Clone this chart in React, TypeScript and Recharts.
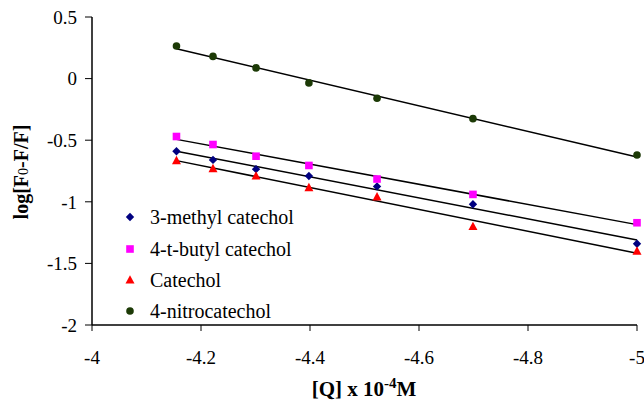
import React from 'react'
import { ScatterChart, Scatter, XAxis, YAxis, Label } from 'recharts'

// log of quencher concentration
const logQ = [-4.155, -4.222, -4.301, -4.398, -4.523, -4.699, -5.0]
const methylCatechol = [-0.59, -0.66, -0.735, -0.79, -0.875, -1.02, -1.34]
const butylCatechol = [-0.47, -0.535, -0.63, -0.705, -0.815, -0.94, -1.17]
const catechol = [-0.665, -0.73, -0.79, -0.885, -0.96, -1.2, -1.4]
const nitroCatechol = [0.265, 0.18, 0.087, -0.035, -0.16, -0.325, -0.62]

const xTicks = [-4, -4.2, -4.4, -4.6, -4.8, -5]
const yTicks = [-2, -1.5, -1, -0.5, 0, 0.5]

const FONT = 'Liberation Serif'

type Pt = { x: number; y: number }

const toPoints = (ys: number[]): Pt[] => logQ.map((x, i) => ({ x, y: ys[i] }))

// least squares trendline, like the excel "linear" trendline
const trend = (ys: number[]): Pt[] => {
  const n = logQ.length
  const mx = logQ.reduce((a, b) => a + b, 0) / n
  const my = ys.reduce((a, b) => a + b, 0) / n
  let sxy = 0
  let sxx = 0
  logQ.forEach((x, i) => {
    sxy += (x - mx) * (ys[i] - my)
    sxx += (x - mx) * (x - mx)
  })
  const b = sxy / sxx
  const a = my - b * mx
  const ends = [logQ[0], logQ[n - 1]]
  return ends.map((x) => ({ x, y: a + b * x }))
}

const Marker = ({ kind, cx, cy, color }: { kind: string; cx: number; cy: number; color: string }) => {
  if (kind === 'diamond') {
    const s = 4.2
    return <polygon points={`${cx},${cy - s} ${cx + s},${cy} ${cx},${cy + s} ${cx - s},${cy}`} fill={color} />
  }
  if (kind === 'square') {
    return <rect x={cx - 3.8} y={cy - 3.8} width={7.6} height={7.6} fill={color} />
  }
  if (kind === 'triangle') {
    return <polygon points={`${cx},${cy - 4.8} ${cx + 4.5},${cy + 3.6} ${cx - 4.5},${cy + 3.6}`} fill={color} />
  }
  return <circle cx={cx} cy={cy} r={3.8} fill={color} />
}

const series = [
  { name: '3-methyl catechol', values: methylCatechol, color: '#000080', kind: 'diamond' },
  { name: '4-t-butyl catechol', values: butylCatechol, color: '#ff00ff', kind: 'square' },
  { name: 'Catechol', values: catechol, color: '#ff0000', kind: 'triangle' },
  { name: '4-nitrocatechol', values: nitroCatechol, color: '#1c3a06', kind: 'circle' },
]

const legendRows = [19, 51, 82, 113]

const LegendBox = () => (
  <svg width={230} height={130} style={{ position: 'absolute', left: 120, top: 198 }}>
    {series.map((s, i) => (
      <g key={s.name}>
        <Marker kind={s.kind} cx={10} cy={legendRows[i]} color={s.color} />
        <text x={30} y={legendRows[i]} dy="0.35em" style={{ fontFamily: FONT, fontSize: 20 }} fill="#000">
          {s.name}
        </text>
      </g>
    ))}
  </svg>
)

const YTitle = () => (
  <text
    transform="translate(28,172) rotate(-90)"
    textAnchor="middle"
    style={{ fontFamily: FONT, fontSize: 20, fontWeight: 'bold' }}
    fill="#000"
  >
    log[F<tspan style={{ fontSize: 14, fontWeight: 'normal' }}>0</tspan>-F/F]
  </text>
)

const XTitle = () => (
  <text x={364} y={396} textAnchor="middle" style={{ fontFamily: FONT, fontSize: 21, fontWeight: 'bold' }} fill="#000">
    [Q] x 10<tspan style={{ fontSize: 15 }} dy={-8}>-4</tspan>
    <tspan dy={8}>M</tspan>
  </text>
)

const tickStyle = { fontFamily: FONT, fontSize: 19, fill: '#000' }

export default function App() {
  return (
    <div style={{ position: 'absolute', left: 0, top: 0, width: 644, height: 401, background: '#fff', fontFamily: FONT }}>
      <ScatterChart width={644} height={401} margin={{ top: 17, right: 7, bottom: 0, left: 0 }} style={{ fontFamily: FONT }}>
        <XAxis
          type="number"
          dataKey="x"
          domain={[-5, -4]}
          reversed
          ticks={xTicks}
          interval={0}
          height={76}
          tickSize={6}
          tickMargin={20}
          axisLine={{ stroke: '#404040', strokeWidth: 2 }}
          tickLine={{ stroke: '#000' }}
          tick={tickStyle}
          tickFormatter={(v: number) => String(v)}
        >
          <Label content={() => <XTitle />} />
        </XAxis>
        <YAxis
          type="number"
          dataKey="y"
          domain={[-2, 0.5]}
          ticks={yTicks}
          interval={0}
          width={92}
          tickSize={7}
          tickMargin={8}
          axisLine={{ stroke: '#000', strokeWidth: 1.5 }}
          tickLine={{ stroke: '#000' }}
          tick={tickStyle}
          tickFormatter={(v: number) => String(v)}
        >
          <Label content={() => <YTitle />} />
        </YAxis>
        {series.map((s) => (
          <Scatter
            key={`trend-${s.name}`}
            data={trend(s.values)}
            line={{ stroke: '#000', strokeWidth: 1.5 }}
            shape={() => <g />}
            legendType="none"
            isAnimationActive={false}
          />
        ))}
        {series.map((s) => (
          <Scatter
            key={s.name}
            name={s.name}
            data={toPoints(s.values)}
            fill={s.color}
            shape={(p: any) => <Marker kind={s.kind} cx={p.cx} cy={p.cy} color={s.color} />}
            isAnimationActive={false}
          />
        ))}
      </ScatterChart>
      <LegendBox />
    </div>
  )
}
